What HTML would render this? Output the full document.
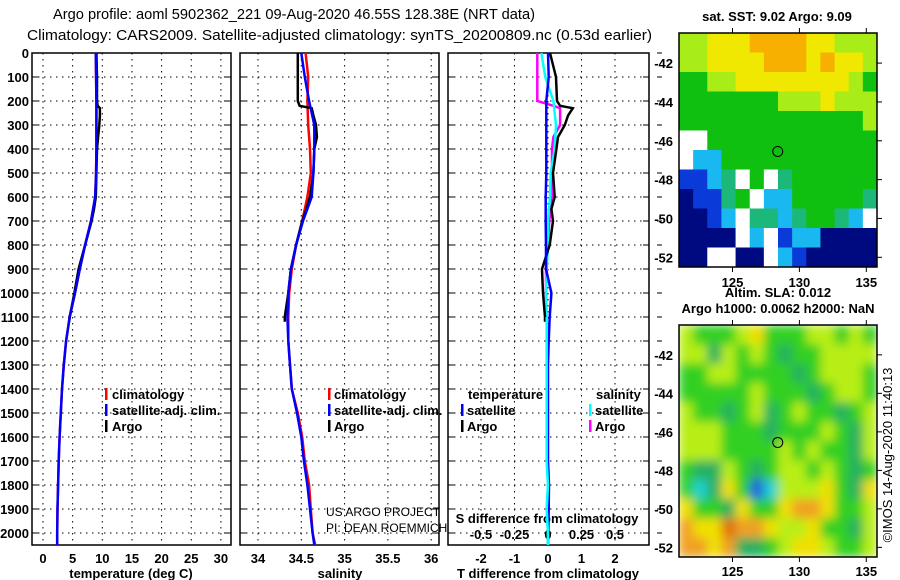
<!DOCTYPE html>
<html><head><meta charset="utf-8">
<style>
html,body{margin:0;padding:0;background:#fff;}
svg{display:block;font-family:"Liberation Sans",sans-serif;}
.t{font-size:13px;font-weight:bold;fill:#000;}
.ttl{font-size:14px;fill:#000;}
</style></head>
<body>
<svg id="fig" width="900" height="580" viewBox="0 0 900 580" xmlns="http://www.w3.org/2000/svg">
<defs>
<filter id="blur" x="0" y="0" width="100%" height="100%"><feGaussianBlur stdDeviation="5" edgeMode="duplicate"/></filter>
<clipPath id="slaclip"><rect x="679" y="325" width="198" height="232"/></clipPath>
</defs>
<text class="ttl" x="53" y="19" textLength="482" lengthAdjust="spacingAndGlyphs" style="font-size:15px">Argo profile: aoml 5902362_221 09-Aug-2020 46.55S 128.38E (NRT data)</text>
<text class="ttl" x="27" y="40" textLength="625" lengthAdjust="spacingAndGlyphs" style="font-size:15px">Climatology: CARS2009. Satellite-adjusted climatology: synTS_20200809.nc (0.53d earlier)</text>
<g id="panels"></g>
<g id="maps"></g>
<text class="ttl" transform="translate(892,455) rotate(-90)" text-anchor="middle" style="font-size:13px">©IMOS 14-Aug-2020 11:40:13</text>
</svg>
<script>
// ---- data ----
const depthTicks=[0,100,200,300,400,500,600,700,800,900,1000,1100,1200,1300,1400,1500,1600,1700,1800,1900,2000];
const tempTicks=[0,5,10,15,20,25,30];
const salTicks=[34,34.5,35,35.5,36];
const tdiffTicks=[-2,-1,0,1,2];
const sdiffTicks=[-0.5,-0.25,0,0.25,0.5];
const climDepth=[0,100,200,300,400,500,600,700,800,900,1000,1100,1200,1300,1400,1500,1600,1700,1800,1900,2000,2050];
const climTemp=[8.9,8.95,9.0,9.0,9.0,8.95,8.8,8.1,7.1,6.2,5.4,4.5,3.9,3.5,3.2,3.0,2.8,2.65,2.55,2.45,2.4,2.4];
const satTemp=[8.9,8.95,9.0,9.0,9.0,8.95,8.8,8.1,7.1,6.2,5.4,4.5,3.9,3.5,3.2,3.0,2.8,2.65,2.55,2.45,2.4,2.4];
const climSal=[34.55,34.58,34.57,34.58,34.60,34.61,34.57,34.51,34.44,34.39,34.36,34.35,34.35,34.37,34.39,34.46,34.51,34.54,34.59,34.61,34.63,34.66];
const satSal=[34.50,34.54,34.59,34.65,34.65,34.64,34.62,34.52,34.44,34.38,34.35,34.34,34.35,34.37,34.39,34.45,34.50,34.53,34.57,34.60,34.63,34.65];
const argoDepth=[0,100,200,220,230,260,300,350,400,500,600,650,700,800,900,1000,1100,1120];
const argoTemp=[9.0,9.1,9.1,9.2,9.6,9.6,9.5,9.3,9.1,9.0,8.9,8.6,8.2,7.1,6.0,5.3,4.5,4.4];
const argoSal=[34.46,34.46,34.46,34.48,34.62,34.64,34.67,34.68,34.65,34.64,34.60,34.56,34.51,34.44,34.38,34.35,34.31,34.31];
const satTdiff=[0,0.02,-0.05,-0.05,-0.05,-0.05,-0.07,-0.07,-0.06,-0.06,0.1,0.05,0.02,0,0,0,0,0,0.03,0.02,0.01,0];
const argoTdiff=[0.06,0.24,0.27,0.36,0.74,0.6,0.5,0.3,0.25,0.15,0.2,0.1,0.15,0.05,-0.18,-0.15,-0.09,-0.09];
const satSdiff=[-0.05,-0.02,0.04,0.06,0.05,0.02,0.015,0,0,-0.01,-0.015,-0.01,-0.01,-0.01,-0.01,-0.01,-0.01,-0.01,0,-0.01,0,0];
const argoSdiff=[-0.08,-0.08,-0.08,0.04,0.09,0.09,0.09,0.04,0.03,0.03,0.035,0.02,0.01,0,-0.015,-0.015,-0.015,-0.015];
// maps (coarse colour-class grids, top row = north)
const sstGrid=["55666777766555","55666677767665","44556666666654","44444445556555","44444444444445","ww444444444444","w2244444444444","1123w4w3444444","01134w22444443","0012w33234432w","0000w2w1220000","00ww00w2100000"];
const slaGrid=["54445644455454","55354543445555","44554444345554","44444544434554","54434534544345","55544434445435","55544445454435","43354345545434","42364125556436","64436446776445","76687765564435","77673345665445"];
const mapLonTicks=[125,130,135];
const mapLatTicks=[-42,-44,-46,-48,-50,-52];
const argoLon=128.38, argoLat=-46.55;

const NS="http://www.w3.org/2000/svg";
function el(tag,attrs,parent){const e=document.createElementNS(NS,tag);for(const k in attrs)e.setAttribute(k,attrs[k]);parent.appendChild(e);return e;}
const panels=document.getElementById('panels');
const yD=d=>53+d*0.24;
const TOP=53,BOT=545;
function frame(x0,x1,name){
  const g=el('g',{},panels);
  
  
  el('rect',{x:x0,y:TOP,width:x1-x0,height:BOT-TOP,fill:'none',stroke:'#000','stroke-width':1.5},g);
  depthTicks.forEach(d=>{const l=el('line',{x1:x0,x2:x1,y1:yD(d),y2:yD(d),stroke:'#000','stroke-dasharray':'1.5,4.5'},g);
    
    el('line',{x1:x0,x2:x0+6,y1:yD(d),y2:yD(d),stroke:'#000'},g);el('line',{x1:x1-6,x2:x1,y1:yD(d),y2:yD(d),stroke:'#000'},g);});
  return g;
}
function vgrid(g,ticks,fx){ticks.forEach(t=>{const l=el('line',{x1:fx(t),x2:fx(t),y1:TOP,y2:BOT,stroke:'#000','stroke-dasharray':'1.5,4.5'},g);
  });}
function xlabels(g,ticks,fx,y,name){ticks.forEach(t=>{const e=el('text',{x:fx(t),y:y,'text-anchor':'middle',class:'t'},g);e.textContent=String(t);
  });}
function line(g,xs,ds,fx,color,name,w){
  const pts=xs.map((v,i)=>fx(v).toFixed(1)+','+yD(ds[i]).toFixed(1)).join(' ');
  const p=el('polyline',{points:pts,fill:'none',stroke:color,'stroke-width':w||2.5},g);
  
}
function txt(g,x,y,s,name,extra){const e=el('text',Object.assign({x:x,y:y,class:'t'},extra||{}),g);e.textContent=s;
  return e;}
function legTick(g,x,y,c){el('rect',{x:x,y:y-11,width:2.5,height:12,fill:c},g);}

depthTicks.forEach(d=>{const e=el('text',{x:29,y:yD(d)+5,'text-anchor':'end',class:'t'},panels);e.textContent=String(d);
  });

// panel 1 temperature
const fT=t=>43+t*5.93;
let g1=frame(32,231,'temperature-panel');
vgrid(g1,tempTicks,fT);
xlabels(g1,tempTicks,fT,563,'temperature-tick-label');
txt(g1,131,578,'temperature (deg C)','temperature-axis-title',{'text-anchor':'middle'});
line(g1,climTemp,climDepth,fT,'#f00','temperature-climatology-line');
line(g1,argoTemp,argoDepth,fT,'#000','temperature-argo-line');
line(g1,satTemp,climDepth,fT,'#00f','temperature-satellite-line');
[['climatology','#f00'],['satellite-adj. clim.','#00f'],['Argo','#000']].forEach((a,i)=>{legTick(g1,105,399+i*16,a[1]);txt(g1,112,399+i*16,a[0],'temperature-legend-entry');});

// panel 2 salinity
const fS=s=>258+(s-34)*86.6;
let g2=frame(240,439,'salinity-panel');
vgrid(g2,salTicks,fS);
xlabels(g2,salTicks,fS,563,'salinity-tick-label');
txt(g2,340,578,'salinity','salinity-axis-title',{'text-anchor':'middle'});
line(g2,climSal,climDepth,fS,'#f00','salinity-climatology-line');
line(g2,argoSal,argoDepth,fS,'#000','salinity-argo-line');
line(g2,satSal,climDepth,fS,'#00f','salinity-satellite-line');
[['climatology','#f00'],['satellite-adj. clim.','#00f'],['Argo','#000']].forEach((a,i)=>{legTick(g2,328,399+i*16,a[1]);txt(g2,334,399+i*16,a[0],'salinity-legend-entry');});
txt(g2,326,516,'US ARGO PROJECT','project-credit',{style:'font-weight:normal;font-size:12px'});
txt(g2,326,532,'PI: DEAN ROEMMICH','pi-credit',{style:'font-weight:normal;font-size:12px'});

// panel 3 differences
const fdT=v=>548+v*33.5;
const fdS=v=>548+v*134;
let g3=frame(448,649,'difference-panel');
vgrid(g3,tdiffTicks,fdT);
xlabels(g3,tdiffTicks,fdT,563,'tdiff-tick-label');
xlabels(g3,sdiffTicks,fdS,539,'sdiff-tick-label');
txt(g3,548,578,'T difference from climatology','tdiff-axis-title',{'text-anchor':'middle'});
txt(g3,547,523,'S difference from climatology','sdiff-axis-title',{'text-anchor':'middle'});
line(g3,argoSdiff,argoDepth,fdS,'#f0f','sdiff-argo-line');
line(g3,satSdiff,climDepth,fdS,'#0ff','sdiff-satellite-line');
line(g3,argoTdiff,argoDepth,fdT,'#000','tdiff-argo-line');
line(g3,satTdiff,climDepth,fdT,'#00f','tdiff-satellite-line');
line(g3,satSdiff.slice(11),climDepth.slice(11),fdS,'#0ff','sdiff-satellite-deep-line');
txt(g3,468,399,'temperature','legend-temperature-heading');
txt(g3,596,399,'salinity','legend-salinity-heading');
legTick(g3,461,415,'#00f');txt(g3,467,415,'satellite','legend-t-satellite');
legTick(g3,461,431,'#000');txt(g3,467,431,'Argo','legend-t-argo');
legTick(g3,589,415,'#0ff');txt(g3,595,415,'satellite','legend-s-satellite');
legTick(g3,589,431,'#f0f');txt(g3,595,431,'Argo','legend-s-argo');
depthTicks.forEach(d=>el('line',{x1:657,x2:662,y1:yD(d),y2:yD(d),stroke:'#000'},panels));

// ---- maps ----
const maps=document.getElementById('maps');
const palSST={'0':'#000a80','1':'#0a3ad8','2':'#1ab8f0','3':'#1cb87a','4':'#10c010','5':'#a8ec18','6':'#f0e800','7':'#f8b000','w':'#ffffff'};
const palSLA={'1':'#2060e0','2':'#20d0d0','3':'#28b060','4':'#30d020','5':'#b8ee18','6':'#f0e000','7':'#f0a020','8':'#e07010'};
function drawMap(name,x0,y0,x1,y1,lat0,lat1,lon0,lon1,grid,pal,labelY,titleLines,smooth){
  const g=el('g',{},maps);
  
  const cells=el('g',smooth?{'clip-path':'url(#slaclip)'}:{},g);
  const inner=el('g',smooth?{filter:'url(#blur)'}:{},cells);
  const rows=grid.length,cols=grid[0].length;
  const cw=(x1-x0)/cols,ch=(y1-y0)/rows;
  grid.forEach((r,i)=>{for(let j=0;j<cols;j++){const c=el('rect',{x:x0+j*cw,y:y0+i*ch,width:cw+0.5,height:ch+0.5,fill:pal[r[j]]||'#fff'},inner);
    }});
  el('rect',{x:x0,y:y0,width:x1-x0,height:y1-y0,fill:'none',stroke:'#000','stroke-width':1.5},g);
  const fx=l=>x0+(l-lon0)/(lon1-lon0)*(x1-x0);
  const fy=l=>y0+(lat0-l)/(lat0-lat1)*(y1-y0);
  mapLonTicks.forEach(l=>{el('line',{x1:fx(l),x2:fx(l),y1:y0-5,y2:y0,stroke:'#000'},g);el('line',{x1:fx(l),x2:fx(l),y1:y1,y2:y1+5,stroke:'#000'},g);
    txt(g,fx(l),labelY,String(l),'map-lon-label',{'text-anchor':'middle'});});
  mapLatTicks.forEach(l=>{el('line',{x1:x1,x2:x1+5,y1:fy(l),y2:fy(l),stroke:'#000'},g);
    txt(g,673,fy(l)+5,String(l),'map-lat-label',{'text-anchor':'end'});});
  const c=el('circle',{cx:fx(argoLon),cy:fy(argoLat),r:5,fill:'none',stroke:'#000','stroke-width':1},g);
  
  titleLines.forEach(t=>txt(g,t[1],t[2],t[0],'map-title',{'text-anchor':'middle'}));
}
drawMap('sst-map',679,33,877,267,-40.45,-52.5,121,135.8,sstGrid,palSST,287,[['sat. SST: 9.02 Argo: 9.09',777,21]],false);
drawMap('sla-map',679,325,877,557,-40.45,-52.5,121,135.8,slaGrid,palSLA,576,[['Altim. SLA: 0.012',778,297],['Argo h1000: 0.0062 h2000: NaN',778,313]],true);
</script>
</body></html>
